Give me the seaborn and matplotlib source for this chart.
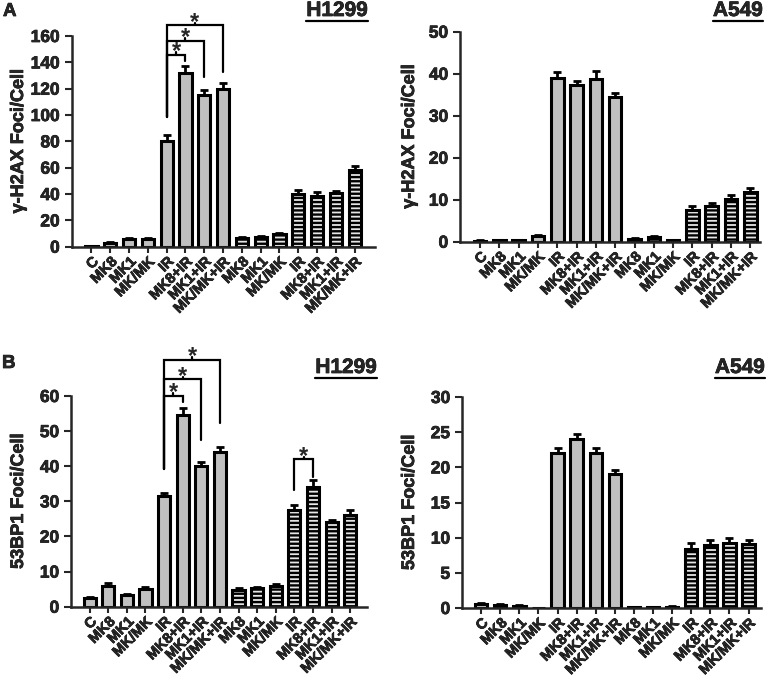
import numpy as np
import pandas as pd
import seaborn as sns
import matplotlib.pyplot as plt
import matplotlib.patheffects as pe
from matplotlib.lines import Line2D

sns.set_style('ticks')
plt.rcParams['font.family'] = ['Liberation Sans', 'DejaVu Sans']
plt.rcParams['font.weight'] = 'bold'
plt.rcParams['hatch.linewidth'] = 1.7
plt.rcParams['hatch.color'] = 'black'

labels = ['C', 'MK8', 'MK1', 'MK/MK', 'IR', 'MK8+IR', 'MK1+IR', 'MK/MK+IR',
          'MK8', 'MK1', 'MK/MK', 'IR', 'MK8+IR', 'MK1+IR', 'MK/MK+IR']
hatched = [False] * 8 + [True] * 7

h2ax_h1299 = [0.5, 3, 5.5, 5.5, 80, 132, 115, 120, 6.5, 7.5, 9.5, 40, 38.5, 40.5, 58]
h2ax_h1299_err = [0.3, 0.6, 1, 1, 4.5, 5, 4, 4, 1, 1, 1, 3, 3, 2, 3]
h2ax_a549 = [0.2, 0.3, 0.3, 1.3, 39, 37.2, 38.8, 34.5, 0.6, 1.1, 0.4, 7.5, 8.5, 10.2, 11.8]
h2ax_a549_err = [0.1, 0.1, 0.1, 0.3, 1.3, 1.0, 1.8, 1.0, 0.2, 0.2, 0.1, 1.0, 0.8, 1.0, 1.0]
bp1_h1299 = [2.5, 6, 3.3, 5, 31.5, 54.5, 40, 44, 4.8, 5.2, 6, 27.5, 34, 24, 26]
bp1_h1299_err = [0.4, 0.8, 0.4, 0.6, 1, 2.2, 1.3, 1.6, 0.5, 0.5, 0.5, 1.5, 2, 0.6, 1.5]
bp1_a549 = [0.5, 0.4, 0.3, 0, 22, 24, 22, 19, 0.1, 0.1, 0.2, 8.4, 9, 9.2, 9.1]
bp1_a549_err = [0.2, 0.15, 0.1, 0, 0.8, 0.8, 0.8, 0.6, 0.05, 0.05, 0.05, 0.8, 0.7, 0.7, 0.6]

# brackets: (left bar, right bar, top, left foot, right foot)
sig_a = [(4, 5, 145.6, 98.7, 141), (4, 6, 156.4, 98.7, 129), (4, 7, 168.3, 98.7, 133)]
sig_b = [(4, 5, 60.0, 39.1, 58.4), (4, 6, 64.7, 39.1, 47.5), (4, 7, 70.3, 39.1, 52.2),
         (11, 12, 42.0, 33.2, 37.0)]

W, H = 766, 678
fig = plt.figure(figsize=(W / 100, H / 100), dpi=100)
heavy = [pe.withStroke(linewidth=0.5, foreground='black')]


def px_axes(l, r, b, t):
    return fig.add_axes([l / W, 1 - b / H, (r - l) / W, (b - t) / H])


def panel(ax, vals, errs, ylim, yticks, xlim, ylabel, label_x, sigs=()):
    df = pd.DataFrame({'pos': range(len(vals)), 'value': vals})
    sns.barplot(data=df, x='pos', y='value', color='#c0c0c0', edgecolor='black',
                linewidth=2.2, width=0.65, errorbar=None, saturation=1, ax=ax)
    for p, h in zip(ax.patches, hatched):
        if h:
            p.set_facecolor('#e6e6e6')
            p.set_hatch('----')
    ax.errorbar(df['pos'], df['value'], yerr=[np.zeros(len(errs)), errs], fmt='none',
                ecolor='black', elinewidth=2, capsize=3, capthick=2, zorder=1)
    ax.set_ylim(*ylim)
    ax.set_yticks(yticks)
    ax.set_xlim(*xlim)
    ax.set_xticks(range(len(labels)))
    ax.set_xticklabels(labels, rotation=45, ha='right', rotation_mode='anchor',
                       fontsize=10.5, fontweight='bold')
    ax.tick_params(axis='y', labelsize=12.5, width=1.5, length=5)
    ax.tick_params(axis='x', width=1.5, length=4, pad=1.5)
    for lbl in ax.get_yticklabels() + ax.get_xticklabels():
        lbl.set_fontweight('bold')
        lbl.set_path_effects(heavy)
    ax.set_xlabel('')
    ax.set_ylabel(ylabel, fontsize=13, fontweight='bold', path_effects=heavy)
    bb = ax.get_position()
    ax.yaxis.set_label_coords((label_x / W - bb.x0) / bb.width, 0.5)
    sns.despine(ax=ax)
    for s in ('left', 'bottom'):
        ax.spines[s].set_linewidth(1.8)
    span = ylim[1] - ylim[0]
    for a, b, top, fl, fr in sigs:
        ax.plot([a, a, b, b], [fl, top, top, fr], color='black', lw=1.6,
                clip_on=False, solid_joinstyle='miter')
        mid = (a + b) / 2
        ax.plot([mid, mid], [top, top + span * 0.012], color='black', lw=1.6, clip_on=False)
        ax.annotate('*', xy=(mid, top), xytext=(0, -2.5), textcoords='offset points',
                    ha='center', va='baseline', fontsize=17, fontweight='bold',
                    annotation_clip=False)


ax1 = px_axes(71.5, 375, 246.7, 36)
panel(ax1, h2ax_h1299, h2ax_h1299_err, (0, 160), range(0, 161, 20), (-1.06, 15.08),
      'γ-H2AX Foci/Cell', 27, sig_a)
ax2 = px_axes(460, 760, 241.7, 31.7)
panel(ax2, h2ax_a549, h2ax_a549_err, (0, 50), range(0, 51, 10), (-1.04, 14.5),
      'γ-H2AX Foci/Cell', 418)
ax3 = px_axes(71, 367, 606.7, 396)
panel(ax3, bp1_h1299, bp1_h1299_err, (0, 60), range(0, 61, 10), (-1.0, 14.9),
      '53BP1 Foci/Cell', 27, sig_b)
ax4 = px_axes(462, 761, 608, 397)
panel(ax4, bp1_a549, bp1_a549_err, (0, 30), range(0, 31, 5), (-1.0, 14.65),
      '53BP1 Foci/Cell', 418)

fig.text(3 / W, 1 - 16 / H, 'A', fontsize=13.5, fontweight='bold', va='baseline',
         path_effects=heavy)
fig.text(2 / W, 1 - 368 / H, 'B', fontsize=13.5, fontweight='bold', va='baseline',
         path_effects=heavy)

titles = []
for name, xr, yb in [('H1299', 368, 16), ('A549', 763, 16), ('H1299', 377, 373), ('A549', 765, 373)]:
    titles.append(fig.text(xr / W, 1 - yb / H, name, fontsize=15, fontweight='bold',
                           ha='right', va='baseline', path_effects=heavy))

fig.canvas.draw()
r = fig.canvas.get_renderer()
for t in titles:
    bb = t.get_window_extent(r)
    x0, y0 = fig.transFigure.inverted().transform((bb.x0, bb.y0 - 0.5))
    x1, _ = fig.transFigure.inverted().transform((bb.x1, bb.y0 - 0.5))
    fig.add_artist(Line2D([x0, x1], [y0, y0], color='black', lw=1.6,
                          transform=fig.transFigure))

fig.savefig('out.png', dpi=100)
